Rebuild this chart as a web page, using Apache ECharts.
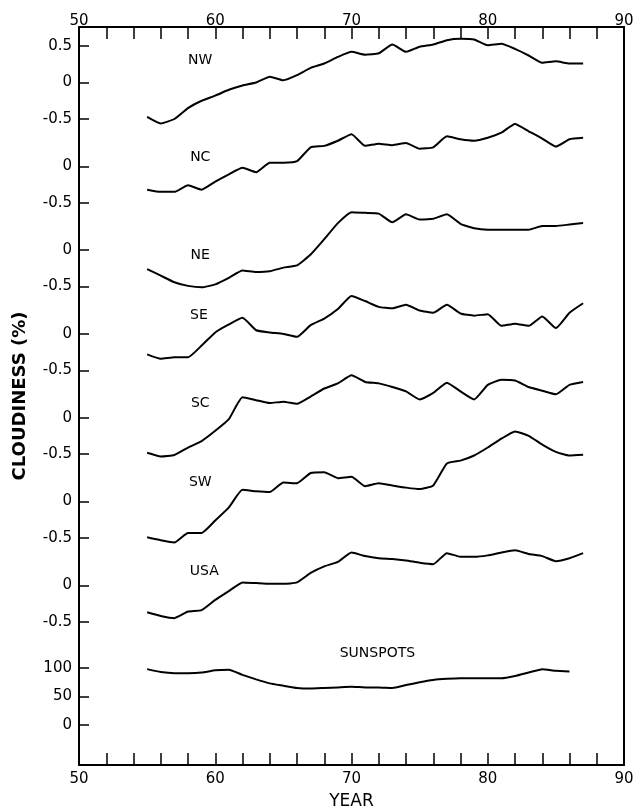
<!DOCTYPE html>
<html>
<head>
<meta charset="utf-8">
<script src="https://cdn.jsdelivr.net/npm/echarts@6/dist/echarts.min.js"></script>
<style>
  html, body { margin: 0; padding: 0; background: #fff; }
  #chart { width: 636px; height: 809px; }
</style>
</head>
<body>
<div id="chart"></div>
<script>
// years 1955..1987, written as two-digit years like the axis
const years = [55, 56, 57, 58, 59, 60, 61, 62, 63, 64, 65, 66, 67, 68, 69, 70,
  71, 72, 73, 74, 75, 76, 77, 78, 79, 80, 81, 82, 83, 84, 85, 86, 87]
const sunspotYears = [55, 56, 57, 58, 59, 60, 61, 62, 63, 64, 65, 66, 67, 68, 69, 70,
  71, 72, 73, 74, 75, 76, 77, 78, 79, 80, 81, 82, 83, 84, 85, 86]

const regionNames = ['NW', 'NC', 'NE', 'SE', 'SC', 'SW', 'USA']

// cloudiness anomaly (%) per region
const nw = [-0.47, -0.56, -0.50, -0.35, -0.25, -0.18, -0.10, -0.04, 0.00, 0.08, 0.03, 0.10, 0.20, 0.26, 0.35, 0.42,
  0.38, 0.40, 0.52, 0.42, 0.49, 0.52, 0.58, 0.60, 0.59, 0.51, 0.53, 0.46, 0.37, 0.27, 0.29, 0.26, 0.26]
const nc = [-0.32, -0.35, -0.35, -0.26, -0.32, -0.21, -0.11, -0.02, -0.08, 0.05, 0.05, 0.07, 0.26, 0.28, 0.35, 0.44,
  0.28, 0.31, 0.29, 0.32, 0.24, 0.26, 0.41, 0.37, 0.35, 0.39, 0.46, 0.58, 0.48, 0.38, 0.27, 0.37, 0.39]
const ne = [-0.26, -0.35, -0.44, -0.49, -0.51, -0.47, -0.38, -0.28, -0.30, -0.29, -0.24, -0.21, -0.06, 0.15, 0.37, 0.52,
  0.51, 0.50, 0.38, 0.49, 0.42, 0.43, 0.49, 0.36, 0.30, 0.28, 0.28, 0.28, 0.28, 0.33, 0.33, 0.35, 0.37]
const se = [-0.28, -0.34, -0.32, -0.32, -0.16, 0.02, 0.13, 0.22, 0.05, 0.02, 0.00, -0.04, 0.12, 0.21, 0.34, 0.52,
  0.45, 0.37, 0.35, 0.40, 0.32, 0.29, 0.40, 0.28, 0.25, 0.27, 0.11, 0.14, 0.11, 0.24, 0.08, 0.29, 0.42]
const sc = [-0.48, -0.53, -0.51, -0.41, -0.32, -0.18, -0.02, 0.28, 0.24, 0.20, 0.22, 0.19, 0.29, 0.40, 0.47, 0.58,
  0.49, 0.47, 0.42, 0.36, 0.25, 0.34, 0.48, 0.36, 0.25, 0.45, 0.52, 0.51, 0.42, 0.37, 0.32, 0.45, 0.49]
const sw = [-0.49, -0.53, -0.56, -0.43, -0.43, -0.26, -0.08, 0.16, 0.14, 0.13, 0.26, 0.25, 0.39, 0.40, 0.32, 0.34,
  0.21, 0.25, 0.22, 0.19, 0.17, 0.22, 0.52, 0.56, 0.63, 0.74, 0.86, 0.96, 0.90, 0.78, 0.68, 0.63, 0.64]
const usa = [-0.37, -0.42, -0.45, -0.36, -0.34, -0.20, -0.08, 0.04, 0.03, 0.02, 0.02, 0.04, 0.17, 0.26, 0.32, 0.45,
  0.40, 0.37, 0.36, 0.34, 0.31, 0.29, 0.44, 0.39, 0.39, 0.41, 0.45, 0.48, 0.43, 0.40, 0.33, 0.37, 0.44]
const sunspots = [98, 93, 91, 91, 92, 96, 97, 88, 80, 73, 69, 65, 64, 65, 66, 67,
  66, 66, 65, 70, 75, 79, 81, 82, 82, 82, 82, 86, 92, 98, 95, 94]

const regionSeries = [nw, nc, ne, se, sc, sw, usa]

// tick labels
const xLabelValues = [50, 60, 70, 80, 90]
const nwTickValues = [-0.5, 0, 0.5]
const cloudTickValues = [-0.5, 0]
const sunspotTickValues = [0, 50, 100]

// where the panel names sit, in each panel's own data units [year, value]
const regionLabelAt = [[58.9, 0.31], [58.9, 0.12], [58.9, -0.07], [58.8, 0.25], [58.9, 0.19], [58.9, 0.26], [59.2, 0.19]]
const sunspotLabelAt = [71.9, 126]

// layout (px)
const LEFT = 79, RIGHT = 12, TOP = 27, BOTTOM = 44
const UNIT_PX = 73          // px per 1 % cloudiness
const FIRST_ZERO = 82.5     // y of NW zero line
const PANEL_STEP = 83.8     // px between panel zero lines
const PANEL_MIN = -0.75, PANEL_MAX = 1.0
const SUN_ZERO = 725, SUN_PX = 0.57, SUN_MAX = 130

const FONT = 'DejaVu Sans'
const INK = '#000'

const chart = echarts.init(document.getElementById('chart'), null, { renderer: 'canvas' })

const frameLine = { onZero: false, lineStyle: { color: INK, width: 2 } }
const frameTick = { inside: true, length: 12, lineStyle: { color: INK, width: 1.5 } }
const frameLabel = {
  color: INK, fontFamily: FONT, fontSize: 15,
  formatter: (v) => (xLabelValues.includes(v) ? String(v) : ''),
}

// outerBoundsMode 'none': keep the grids exactly where placed
const grid = [{ left: LEFT, right: RIGHT, top: TOP, bottom: BOTTOM, outerBoundsMode: 'none' }]
const xAxis = [
  {
    gridIndex: 0, type: 'value', position: 'bottom', min: 50, max: 90, interval: 2,
    axisLine: frameLine,
    axisTick: frameTick,
    axisLabel: { ...frameLabel, margin: 7 },
    splitLine: { show: false },
    name: 'YEAR', nameLocation: 'middle', nameGap: 28,
    nameTextStyle: { color: INK, fontFamily: FONT, fontSize: 17 },
  },
  {
    gridIndex: 0, type: 'value', position: 'top', min: 50, max: 90, interval: 2,
    axisLine: frameLine,
    axisTick: frameTick,
    axisLabel: { ...frameLabel, margin: -2 },
    splitLine: { show: false },
  },
]
const yAxis = [
  {
    gridIndex: 0, type: 'value', position: 'left', min: 0, max: 1,
    axisLine: { show: true, ...frameLine },
    axisTick: { show: false }, axisLabel: { show: false }, splitLine: { show: false },
    name: 'CLOUDINESS (%)', nameLocation: 'middle', nameGap: 50,
    nameTextStyle: { color: INK, fontFamily: FONT, fontSize: 18, fontWeight: 'bold' },
  },
  {
    gridIndex: 0, type: 'value', position: 'right', min: 0, max: 1,
    axisLine: { show: true, ...frameLine },
    axisTick: { show: false }, axisLabel: { show: false }, splitLine: { show: false },
  },
]
const series = []

function panelYAxis(gridIndex, min, max, ticks) {
  return {
    gridIndex, type: 'value', position: 'left', min, max,
    axisLine: { show: false, onZero: false },
    axisTick: { show: true, inside: true, length: 10, customValues: ticks, lineStyle: { color: INK, width: 1.5 } },
    axisLabel: { show: true, customValues: ticks, margin: 7, color: INK, fontFamily: FONT, fontSize: 15 },
    splitLine: { show: false },
  }
}

function hiddenXAxis(gridIndex) {
  return { gridIndex, type: 'value', min: 50, max: 90, show: false, splitLine: { show: false } }
}

function lineSeries(xIdx, yIdx, xs, ys, name, labelAt) {
  return {
    type: 'line', name, xAxisIndex: xIdx, yAxisIndex: yIdx,
    data: xs.map((x, i) => [x, ys[i]]),
    showSymbol: false, symbol: 'none', smooth: 0.15, clip: false,
    lineStyle: { color: INK, width: 2 },
    markPoint: {
      symbol: 'circle', symbolSize: 0, silent: true,
      label: { show: true, position: 'inside', formatter: name, color: INK, fontFamily: FONT, fontSize: 14 },
      data: [{ coord: labelAt }],
    },
    animation: false,
  }
}

function addPanel(top, height, min, max, ticks, xs, ys, name, labelAt) {
  grid.push({ left: LEFT, right: RIGHT, top, height, outerBoundsMode: 'none' })
  const gi = grid.length - 1
  xAxis.push(hiddenXAxis(gi))
  yAxis.push(panelYAxis(gi, min, max, ticks))
  series.push(lineSeries(xAxis.length - 1, yAxis.length - 1, xs, ys, name, labelAt))
}

regionNames.forEach((name, i) => {
  const zero = FIRST_ZERO + i * PANEL_STEP
  addPanel(zero - PANEL_MAX * UNIT_PX, (PANEL_MAX - PANEL_MIN) * UNIT_PX, PANEL_MIN, PANEL_MAX,
    i === 0 ? nwTickValues : cloudTickValues, years, regionSeries[i], name, regionLabelAt[i])
})

addPanel(SUN_ZERO - SUN_MAX * SUN_PX, SUN_MAX * SUN_PX, 0, SUN_MAX,
  sunspotTickValues, sunspotYears, sunspots, 'SUNSPOTS', sunspotLabelAt)

chart.setOption({
  backgroundColor: '#fff',
  animation: false,
  grid, xAxis, yAxis, series,
})
</script>
</body>
</html>
